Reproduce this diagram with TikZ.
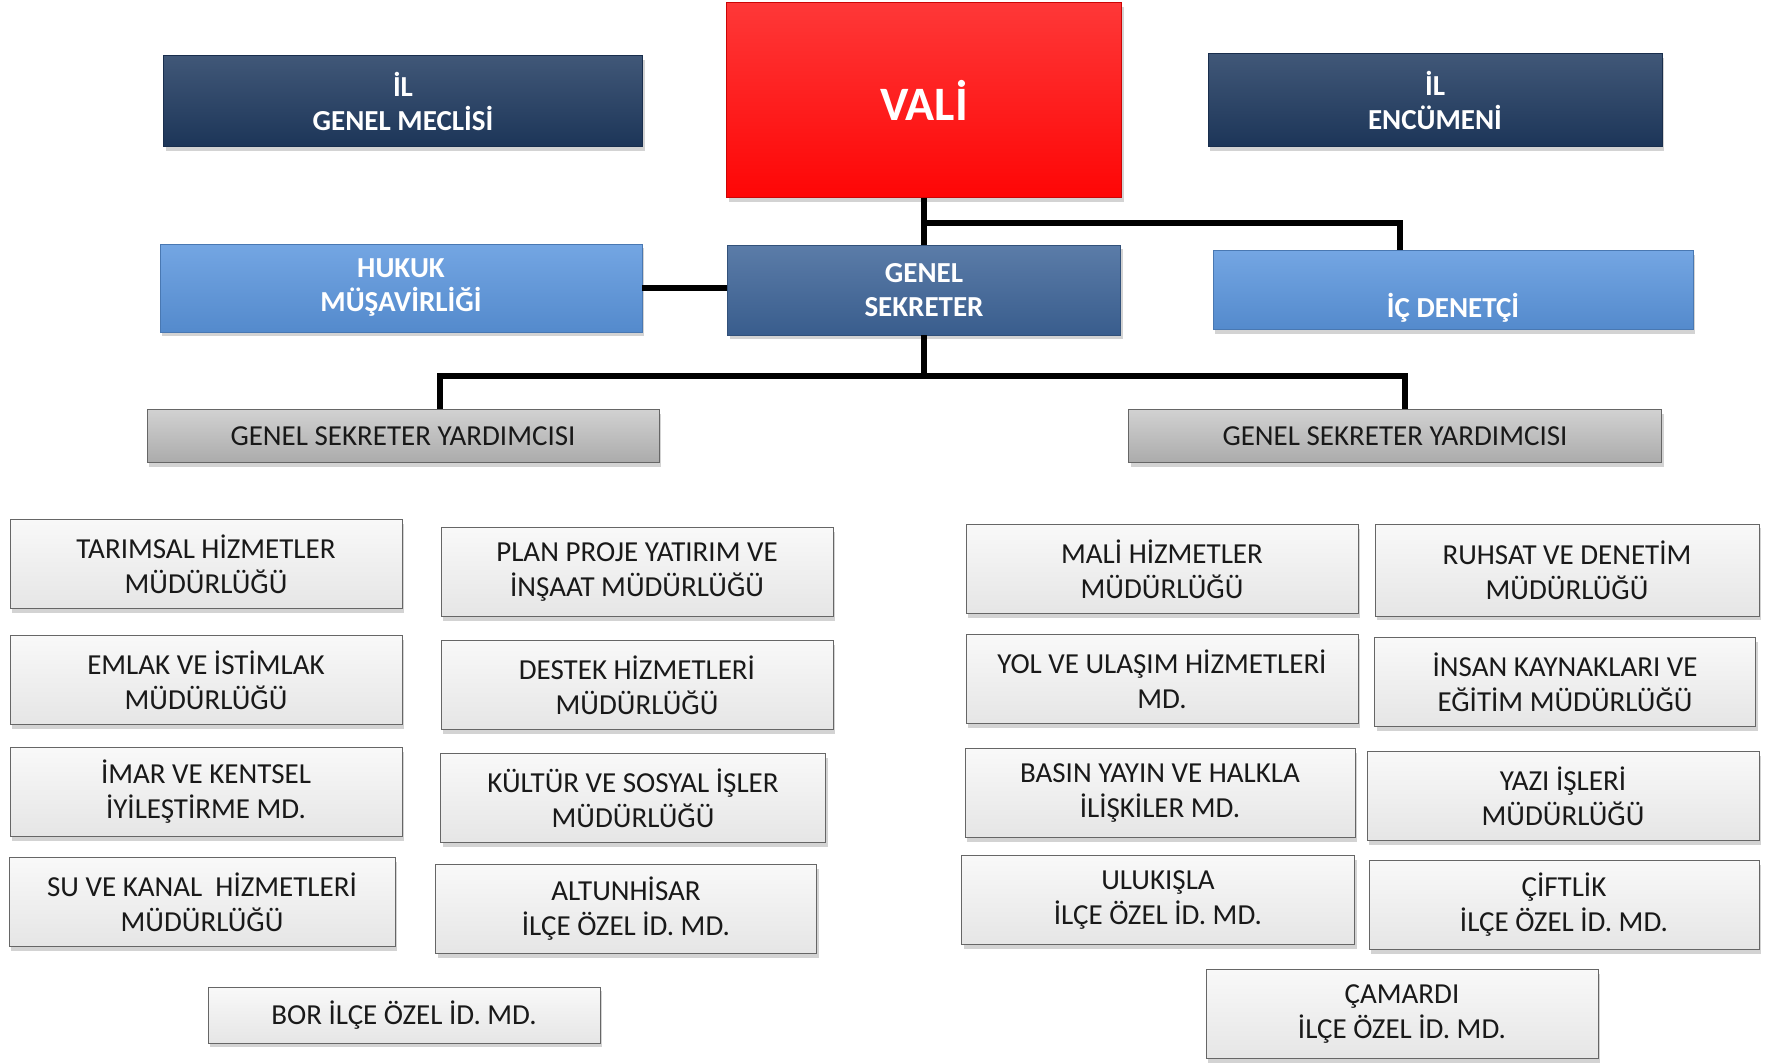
\documentclass[tikz,border=0pt]{standalone}
\usepackage{fontspec}
\setmainfont{Carlito}
\usetikzlibrary{shadows}

\definecolor{valired}{RGB}{254,6,6}
\definecolor{navy}{RGB}{31,58,96}
\definecolor{sekblue}{RGB}{62,101,153}
\definecolor{lightblue}{RGB}{91,150,222}
\definecolor{yrdgray}{RGB}{190,190,190}

\tikzset{
	box/.style={inner sep=0pt, align=center, draw=#1!80!black, line width=.8pt,
		drop shadow={shadow xshift=2pt, shadow yshift=-4pt, opacity=.35}},
	head/.style={box=#1, top color=#1!85!white, bottom color=#1!92!black, text=white,
		font=\fontsize{29}{34}\selectfont\bfseries, minimum width=480pt, minimum height=90pt},
	unit/.style={box=gray, top color=gray!5, bottom color=gray!20, text=black!90,
		font=\fontsize{29}{35}\selectfont, minimum width=392pt, minimum height=89pt},
	yrd/.style={box=gray, top color=yrdgray!70!white, bottom color=yrdgray!90!black,
		text=black!90, font=\fontsize{29}{35}\selectfont, minimum height=53pt},
	link/.style={line width=5.5pt, black}
}

\begin{document}
\begin{tikzpicture}[x=1pt, y=-1pt]
	\useasboundingbox (0,0) rectangle (1770,1063);

	\node[head=valired, top color=valired!80!white, bottom color=valired,
		minimum width=395pt, minimum height=195pt,
		font=\fontsize{48}{56}\selectfont\bfseries] (vali) at (924,100) {VALİ};
	\node[head=navy, minimum width=479pt, minimum height=91pt] (meclis) at (403,101) {İL\\GENEL MECLİSİ};
	\node[head=navy, minimum width=454pt, minimum height=93pt] (encumen) at (1435,100) {İL\\ENCÜMENİ};
	\node[head=lightblue, minimum width=482pt, minimum height=88pt] (hukuk) at (401,288) {HUKUK\\MÜŞAVİRLİĞİ};
	\node[head=sekblue, minimum width=393pt, minimum height=90pt] (gs) at (924,290) {GENEL\\SEKRETER};
	\node[head=lightblue, minimum width=480pt, minimum height=79pt] (ic) at (1453,290) {\strut\\İÇ DENETÇİ};

	\node[yrd, minimum width=512pt] (yrdL) at (403,436) {GENEL SEKRETER YARDIMCISI};
	\node[yrd, minimum width=533pt] (yrdR) at (1395,436) {GENEL SEKRETER YARDIMCISI};

	\coordinate (tap) at (1400,223);
	\coordinate (busL) at (440,376);
	\coordinate (busR) at (1405,376);

	\draw[link] (vali.south) -- (gs.north);
	\draw[link] (vali.south |- tap) -- (tap) -- (tap |- ic.north);
	\draw[link] (hukuk.east) -- (gs.west |- hukuk.east);
	\draw[link] (gs.south) -- (gs.south |- busL);
	\draw[link] (busL |- yrdL.north) -- (busL) -- (busR) -- (busR |- yrdR.north);

	\node[unit] (tarim) at (206,564) {TARIMSAL HİZMETLER\\MÜDÜRLÜĞÜ};
	\node[unit] (emlak) at (206,680) {EMLAK VE İSTİMLAK\\MÜDÜRLÜĞÜ};
	\node[unit] (imar) at (206,792) {İMAR VE KENTSEL\\İYİLEŞTİRME MD.};
	\node[unit, minimum width=386pt] (su) at (202,902) {SU VE KANAL~ HİZMETLERİ\\MÜDÜRLÜĞÜ};
	\node[unit] (plan) at (637,572) {PLAN PROJE YATIRIM VE\\İNŞAAT MÜDÜRLÜĞÜ};
	\node[unit] (destek) at (637,685) {DESTEK HİZMETLERİ\\MÜDÜRLÜĞÜ};
	\node[unit, minimum width=385pt] (kultur) at (633,798) {KÜLTÜR VE SOSYAL İŞLER\\MÜDÜRLÜĞÜ};
	\node[unit, minimum width=381pt] (altun) at (626,909) {ALTUNHİSAR\\İLÇE ÖZEL İD. MD.};
	\node[unit, minimum height=56pt] (bor) at (404,1015) {BOR İLÇE ÖZEL İD. MD.};

	\node[unit] (mali) at (1162,569) {MALİ HİZMETLER\\MÜDÜRLÜĞÜ};
	\node[unit] (yol) at (1162,679) {YOL VE ULAŞIM HİZMETLERİ\\MD.};
	\node[unit, minimum width=390pt] (basin) at (1160,793) {BASIN YAYIN VE HALKLA\\İLİŞKİLER MD.};
	\node[unit, minimum width=393pt] (ulukisla) at (1158,900) {ULUKIŞLA\\İLÇE ÖZEL İD. MD.};
	\node[unit, minimum width=384pt, minimum height=92pt] (ruhsat) at (1567,570) {RUHSAT VE DENETİM\\MÜDÜRLÜĞÜ};
	\node[unit, minimum width=381pt] (insan) at (1565,682) {İNSAN KAYNAKLARI VE\\EĞİTİM MÜDÜRLÜĞÜ};
	\node[unit] (yazi) at (1563,796) {YAZI İŞLERİ\\MÜDÜRLÜĞÜ};
	\node[unit, minimum width=390pt] (ciftlik) at (1564,905) {ÇİFTLİK\\İLÇE ÖZEL İD. MD.};
	\node[unit] (camardi) at (1402,1014) {ÇAMARDI\\İLÇE ÖZEL İD. MD.};
\end{tikzpicture}
\end{document}
